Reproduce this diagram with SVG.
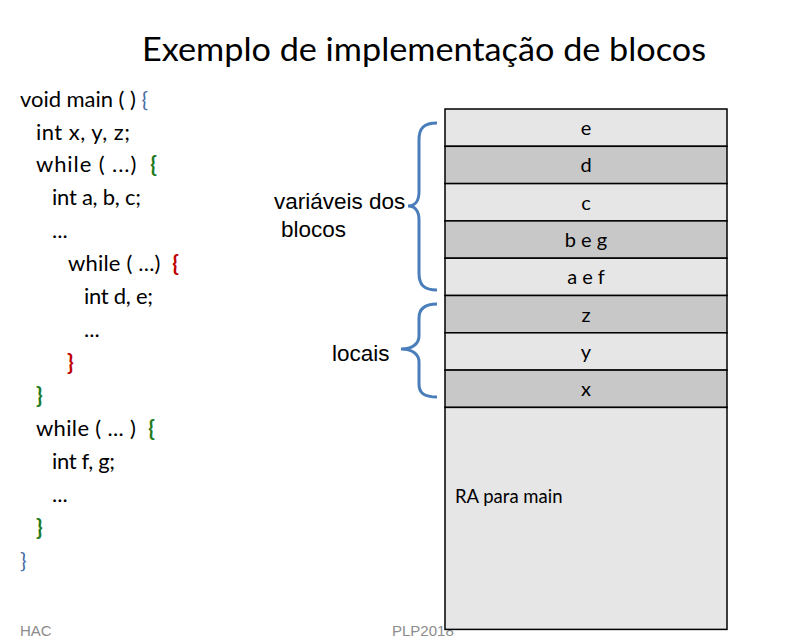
<svg xmlns="http://www.w3.org/2000/svg" width="809" height="638" viewBox="0 0 809 638">
  <style>
    .title { font-family: Lato, "Open Sans", sans-serif; font-size: 33px; fill: #000; }
    .code { font-family: Lato, "Open Sans", sans-serif; font-size: 22px; fill: #000; white-space: pre; }
    .b-main { fill: #4a6fa5; }
    .b-green { fill: #1e7a1e; font-weight: bold; }
    .b-red { fill: #c00000; font-weight: bold; }
    .label { font-family: "Liberation Sans", Arial, sans-serif; font-size: 22.5px; fill: #000; }
    .foot { font-family: "Liberation Sans", Arial, sans-serif; font-size: 15px; fill: #8c8c8c; }
    .cell-l { fill: #e6e6e6; stroke: #000; stroke-width: 1.5; }
    .cell-d { fill: #c8c8c8; stroke: #000; stroke-width: 1.5; }
    .cell-text { font-family: Lato, "Open Sans", sans-serif; font-size: 20px; fill: #000; text-anchor: middle; }
    .ra { font-family: Lato, "Open Sans", sans-serif; font-size: 18.5px; fill: #000; }
    .brace { fill: none; stroke: #4a7ebb; stroke-width: 3; }
  </style>

  <rect width="809" height="638" fill="#fff"/>

  <text class="title" x="142" y="61" textLength="564" lengthAdjust="spacingAndGlyphs">Exemplo de implementação de blocos</text>

  <!-- source code -->
  <g id="code">
    <text class="code" x="20" y="107" textLength="128">void main ( ) <tspan class="b-main">{</tspan></text>
    <text class="code" x="36" y="140" textLength="94">int x, y, z;</text>
    <text class="code" x="36" y="172" textLength="121">while ( ...)  <tspan class="b-green">{</tspan></text>
    <text class="code" x="52" y="205" textLength="89">int a, b, c;</text>
    <text class="code" x="52" y="238">...</text>
    <text class="code" x="68" y="271" textLength="111">while ( ...)  <tspan class="b-red">{</tspan></text>
    <text class="code" x="84" y="304" textLength="69">int d, e;</text>
    <text class="code" x="84" y="337">...</text>
    <text class="code b-red" x="67" y="370">}</text>
    <text class="code b-green" x="36" y="403">}</text>
    <text class="code" x="36" y="436" textLength="119">while ( ... )  <tspan class="b-green">{</tspan></text>
    <text class="code" x="52" y="469" textLength="63">int f, g;</text>
    <text class="code" x="52" y="502">...</text>
    <text class="code b-green" x="36" y="535">}</text>
    <text class="code b-main" x="20" y="568">}</text>
  </g>

  <!-- footer -->
  <text class="foot" x="20" y="636">HAC</text>
  <text class="foot" x="392" y="636">PLP2018</text>

  <!-- activation record stack -->
  <g id="stack">
    <g id="cell-e"><rect class="cell-l" x="445" y="109" width="282" height="37.3"/><text class="cell-text" x="586" y="135">e</text></g>
    <g id="cell-d"><rect class="cell-d" x="445" y="146.3" width="282" height="37.3"/><text class="cell-text" x="586" y="172">d</text></g>
    <g id="cell-c"><rect class="cell-l" x="445" y="183.6" width="282" height="37.3"/><text class="cell-text" x="586" y="210">c</text></g>
    <g id="cell-beg"><rect class="cell-d" x="445" y="220.9" width="282" height="37.3"/><text class="cell-text" x="586" y="247">b e g</text></g>
    <g id="cell-aef"><rect class="cell-l" x="445" y="258.2" width="282" height="37.3"/><text class="cell-text" x="586" y="284">a e f</text></g>
    <g id="cell-z"><rect class="cell-d" x="445" y="295.5" width="282" height="37.3"/><text class="cell-text" x="586" y="322">z</text></g>
    <g id="cell-y"><rect class="cell-l" x="445" y="332.8" width="282" height="37.3"/><text class="cell-text" x="586" y="359">y</text></g>
    <g id="cell-x"><rect class="cell-d" x="445" y="370.1" width="282" height="37.3"/><text class="cell-text" x="586" y="396">x</text></g>
    <g id="cell-ra"><rect class="cell-l" x="445" y="407.4" width="282" height="222"/><text class="ra" x="455" y="503">RA para main</text></g>
  </g>

  <!-- braces and their labels -->
  <g id="connectors">
    <path class="brace" d="M437,123 C424,123 419,128 419,140 L419,192 C419,201 415,206 408,206 C415,206 419,211 419,220 L419,273 C419,285 424,290 437,290"/>
    <path class="brace" d="M437,304 C424,304 419,309 419,318 L419,336 C419,344 412,349 401,349 C412,349 419,354 419,362 L419,384 C419,393 424,397 437,397"/>
  </g>
  <g id="label-blocos">
    <text class="label" x="274" y="209">variáveis dos</text>
    <text class="label" x="281" y="237">blocos</text>
  </g>
  <g id="label-locais">
    <text class="label" x="332" y="361">locais</text>
  </g>
</svg>
